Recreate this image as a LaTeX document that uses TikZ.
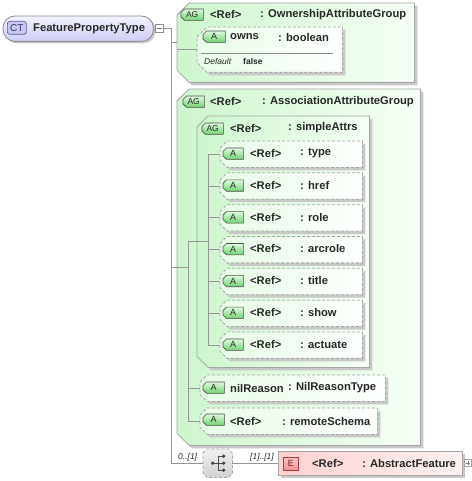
\documentclass[tikz,border=0pt]{standalone}
\usepackage{fontspec}
\setmainfont{Liberation Sans}
\usetikzlibrary{calc}

\pgfdeclarelayer{hinten}
\pgfsetlayers{hinten,main}

\definecolor{linie}{RGB}{150,150,150}
\definecolor{rahmen}{RGB}{165,165,165}
\definecolor{schatten}{RGB}{200,200,200}
\definecolor{gruenL}{RGB}{205,246,205}
\definecolor{gruenR}{RGB}{246,255,246}
\definecolor{attrL}{RGB}{232,251,232}
\definecolor{attrR}{RGB}{253,255,253}
\definecolor{ctOben}{RGB}{242,242,255}
\definecolor{ctUnten}{RGB}{206,206,244}
\definecolor{rosaL}{RGB}{255,208,208}
\definecolor{rosaR}{RGB}{255,242,242}
\definecolor{badgeOben}{RGB}{222,252,222}
\definecolor{badgeUnten}{RGB}{112,208,112}
\definecolor{textDunkel}{RGB}{40,40,40}

\newcommand{\titelSchrift}{\fontsize{11.2}{13}\selectfont\bfseries}
\newcommand{\kleinSchrift}{\fontsize{8.5}{10}\selectfont}

% Fase links oben und links unten
\newcommand{\fase}[3]{%
  \begin{pgfonlayer}{hinten}
    \path[#3] ($(#1.north west)+(0,#2)$) -- ($(#1.north west)+(#2,0)$) -- (#1.north east)
      -- (#1.south east) -- ($(#1.south west)+(#2,0)$) -- ($(#1.south west)+(0,-#2)$) -- cycle;
  \end{pgfonlayer}}
\newcommand{\fasenbox}[3]{%
  \begin{pgfonlayer}{hinten}
    \fill[schatten] ($(#1.north west)+(3,#2+3)$) -- ($(#1.north west)+(#2+3,3)$) -- ($(#1.north east)+(3,3)$)
      -- ($(#1.south east)+(3,3)$) -- ($(#1.south west)+(#2+3,3)$) -- ($(#1.south west)+(3,3-#2)$) -- cycle;
  \end{pgfonlayer}
  \fase{#1}{#2}{#3}}

\tikzset{
  box/.style={draw=none, inner sep=0pt, anchor=north west},
  conn/.style={draw=linie, line width=0.8pt},
  titel/.style={inner sep=0pt, anchor=west, font=\titelSchrift, text=textDunkel},
  klein/.style={inner sep=0pt, anchor=west, font=\kleinSchrift\itshape, text=textDunkel},
  badge/.style={inner sep=0pt, anchor=north west, font=\fontsize{9}{10}\selectfont, text=textDunkel},
  agstil/.style={draw=rahmen, line width=0.8pt, left color=gruenL, right color=gruenR},
  attrstil/.style={draw=rahmen, line width=0.8pt, dash pattern=on 3pt off 2pt, left color=attrL, right color=attrR},
  badgestil/.style={draw=black!70, line width=0.6pt, top color=badgeOben, bottom color=badgeUnten},
}

\begin{document}
\begin{tikzpicture}[x=1pt,y=-1pt]
    \pgfmathsetmacro{\attrTop}{141}
    \pgfmathsetmacro{\attrStep}{31.83}

    \useasboundingbox (0,0) rectangle (471,481);
    \begin{pgfonlayer}{hinten}
      \fill[white] (0,0) rectangle (471,481);
    \end{pgfonlayer}

    % Komplexer Typ
    \node[box, minimum width=150pt, minimum height=25pt] (ct) at (3,16) {};
    \begin{pgfonlayer}{hinten}
      \fill[schatten, rounded corners=12pt] ($(ct.north west)+(2,2)$) rectangle ($(ct.south east)+(2,2)$);
      \path[draw=black!45, line width=0.8pt, rounded corners=12pt, top color=ctOben, bottom color=ctUnten]
        (ct.north west) rectangle (ct.south east);
    \end{pgfonlayer}
    \node[badge, minimum width=19pt, minimum height=13pt, draw={rgb,255:red,90;green,90;blue,150}, line width=0.7pt,
      fill={rgb,255:red,200;green,200;blue,242}, rounded corners=2.5pt, text={rgb,255:red,50;green,50;blue,110},
      font=\fontsize{10}{11}\selectfont] (ctb) at (7,21) {CT};
    \node[titel] (ctname) at (33,28.5) {FeaturePropertyType};
    \node[box, minimum width=8pt, minimum height=8pt, draw=black!45, fill=white, line width=0.6pt] (ctcol) at (155,24) {};
    \draw[black!55, line width=0.6pt] ($(ctcol.west)+(1.8,0)$) -- ($(ctcol.east)+(-1.8,0)$);

    % Verbindungen
    \coordinate (stamm) at (171,0);
    \coordinate (ag2bus) at (188,0);
    \coordinate (sabus) at (208,0);

    % OwnershipAttributeGroup
    \node[box, minimum width=237pt, minimum height=79pt] (ag1) at (177,3) {};
    \fasenbox{ag1}{12}{agstil}
    \node[badge, minimum width=22pt, minimum height=11pt, font=\fontsize{8.5}{10}\selectfont] (ag1b) at (181,9) {AG};
    \fase{ag1b}{3.5}{badgestil}
    \node[titel] (ag1r) at (210,14.5) {<Ref>};
    \node[titel] (ag1t) at (260,14.5) {: OwnershipAttributeGroup};

    \node[box, minimum width=145pt, minimum height=45pt] (owns) at (197,27) {};
    \fasenbox{owns}{10}{attrstil}
    \node[badge, minimum width=22pt, minimum height=11pt] (ownsb) at (203,31) {A};
    \fase{ownsb}{3.5}{badgestil}
    \node[titel] (ownsn) at (230,37) {owns};
    \node[titel] (ownst) at (278,37) {: boolean};
    \draw[black!45, line width=0.6pt] ($(owns.north west)+(4,26)$) -- ($(owns.north east)+(-9,26)$);
    \node[klein] (ownsd) at (204,61) {Default};
    \node[klein, font=\kleinSchrift\bfseries] (ownsw) at (243,61) {false};

    % AssociationAttributeGroup
    \node[box, minimum width=243pt, minimum height=356pt] (ag2) at (177,89) {};
    \fasenbox{ag2}{12}{agstil}
    \node[badge, minimum width=21pt, minimum height=11pt, font=\fontsize{8.5}{10}\selectfont] (ag2b) at (183,96) {AG};
    \fase{ag2b}{3.5}{badgestil}
    \node[titel] (ag2r) at (210,101.5) {<Ref>};
    \node[titel] (ag2t) at (262,101.5) {: AssociationAttributeGroup};

    % simpleAttrs
    \node[box, minimum width=172pt, minimum height=251pt] (sa) at (197,116) {};
    \fasenbox{sa}{11}{agstil}
    \node[badge, minimum width=21pt, minimum height=11pt, font=\fontsize{8.5}{10}\selectfont] (sab) at (202,123) {AG};
    \fase{sab}{3.5}{badgestil}
    \node[titel] (sar) at (230,128) {<Ref>};
    \node[titel] (sat) at (288,128) {: simpleAttrs};

    \foreach \name [count=\i] in {type,href,role,arcrole,title,show,actuate} {
      \pgfmathsetmacro{\oben}{\attrTop+\attrStep*(\i-1)}
      \node[box, minimum width=142pt, minimum height=26pt] (a\i) at (220,\oben) {};
      \fasenbox{a\i}{7}{attrstil}
      \node[badge, minimum width=20pt, minimum height=11pt] (ab\i) at (223,\oben+7) {A};
      \fase{ab\i}{3.5}{badgestil}
      \node[titel] (ar\i) at (250,\oben+12.5) {<Ref>};
      \node[titel] (at\i) at (300,\oben+12.5) {: \name};
    }

    % nilReason, remoteSchema
    \node[box, minimum width=185pt, minimum height=26pt] (nil) at (200,375) {};
    \fasenbox{nil}{7}{attrstil}
    \node[badge, minimum width=21pt, minimum height=11pt] (nilb) at (203,382) {A};
    \fase{nilb}{3.5}{badgestil}
    \node[titel] (niln) at (230,388) {nilReason};
    \node[titel] (nilt) at (288,388) {: NilReasonType};

    \node[box, minimum width=177pt, minimum height=26pt] (remote) at (200,408) {};
    \fasenbox{remote}{7}{attrstil}
    \node[badge, minimum width=21pt, minimum height=11pt] (remb) at (203,414) {A};
    \fase{remb}{3.5}{badgestil}
    \node[titel] (remr) at (230,421) {<Ref>};
    \node[titel] (remt) at (282,421) {: remoteSchema};

    % Sequenz
    \node[box, minimum width=29pt, minimum height=28pt] (seq) at (203,449) {};
    \begin{pgfonlayer}{hinten}
      \path[draw=rahmen, line width=0.8pt, dash pattern=on 3pt off 2pt, top color=black!6, bottom color=black!18]
        ($(seq.north west)+(0,4)$) -- ($(seq.north west)+(4,0)$) -- ($(seq.north east)+(-4,0)$) -- ($(seq.north east)+(0,4)$)
        -- ($(seq.south east)+(0,-4)$) -- ($(seq.south east)+(-4,0)$) -- ($(seq.south west)+(4,0)$) -- ($(seq.south west)+(0,-4)$) -- cycle;
    \end{pgfonlayer}
    \begin{scope}[shift={(seq.center)}]
      \draw[black!70, line width=0.8pt] (-5,0) -- (0.5,0) (0.5,-7) -- (0.5,7) (0.5,-7) -- (6,-7) (0.5,7) -- (6,7) (0.5,0) -- (6,0);
      \foreach \py in {-7,0,7} \fill[black!75] (6,\py) circle (1.8);
      \fill[black!75] (-5,0) circle (1.8);
    \end{scope}

    % Element
    \node[box, minimum width=184pt, minimum height=24pt] (elem) at (278,451) {};
    \begin{pgfonlayer}{hinten}
      \fill[schatten] ($(elem.north west)+(3,3)$) rectangle ($(elem.south east)+(3,3)$);
      \path[draw=rahmen, line width=0.8pt, left color=rosaL, right color=rosaR] (elem.north west) rectangle (elem.south east);
    \end{pgfonlayer}
    \node[badge, minimum width=15pt, minimum height=13pt, draw={rgb,255:red,170;green,60;blue,60}, line width=0.7pt,
      top color={rgb,255:red,255;green,200;blue,200}, bottom color={rgb,255:red,240;green,145;blue,145},
      text={rgb,255:red,110;green,30;blue,30}] (elemb) at (283,457) {E};
    \node[titel] (elemr) at (312,463) {<Ref>};
    \node[titel] (elemt) at (362,463) {: AbstractFeature};
    \node[box, minimum width=7pt, minimum height=7pt, draw=black!35, fill=white, line width=0.5pt] (plus) at (464,459) {};
    \draw[black!50, line width=0.5pt] ($(plus.west)+(1.5,0)$) -- ($(plus.east)+(-1.5,0)$)
      ($(plus.north)+(0,1.5)$) -- ($(plus.south)+(0,-1.5)$);

    % Linien
    \draw[conn] (ctcol.east) -| (stamm |- seq.west) -- (seq.west);
    \draw[conn] (stamm |- ag1.west) -- (ag1.west);
    \draw[conn] (ag1.west |- owns.west) -- (owns.west);
    \draw[conn] (stamm |- ag2.west) -- (ag2bus |- ag2.west);
    \draw[conn] (ag2bus |- sa.west) -- (ag2bus |- remote.west) -- (remote.west);
    \draw[conn] (ag2bus |- sa.west) -- (sabus |- sa.west);
    \draw[conn] (ag2bus |- nil.west) -- (nil.west);
    \draw[conn] (sabus |- a1.west) -- (sabus |- a7.west);
    \foreach \i in {1,...,7} \draw[conn] (sabus |- a\i.west) -- (a\i.west);
    \draw[conn] (seq.east) -- (elem.west);

    % Kardinalitaeten
    \node[klein] (seqmin) at (178,457.5) {0..[1]};
    \node[klein] (elemmin) at (250,457.5) {[1]..[1]};
\end{tikzpicture}
\end{document}
